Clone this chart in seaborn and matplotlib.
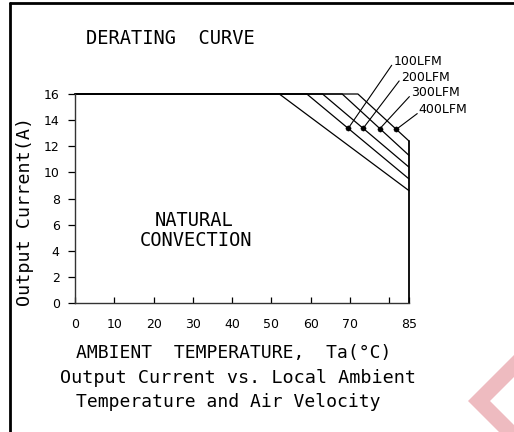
import numpy as np
import pandas as pd
import matplotlib
matplotlib.use("Agg")
import matplotlib.pyplot as plt
from matplotlib.lines import Line2D
from matplotlib.patches import Polygon
import seaborn as sns

# ---- data ----
airflow = ["Natural convection", "100LFM", "200LFM", "300LFM", "400LFM"]
derate_start_temp = [52, 59, 63, 68, 72]          # deg C where derating begins
current_at_85 = [8.6, 9.5, 10.4, 11.3, 12.4]      # A at 85 deg C
max_current = 16
min_temp = 0
max_temp = 85

label_names = ["100LFM", "200LFM", "300LFM", "400LFM"]
marker_temp = [69.6, 73.4, 77.6, 81.8]
marker_current = [13.4, 13.4, 13.35, 13.3]
label_anchor_temp = [80.6, 82.5, 85.1, 87.1]
label_anchor_current = [18.2, 17.0, 15.8, 14.5]

xtick_vals = [0, 10, 20, 30, 40, 50, 60, 70, 80, 85]
xtick_text = ["0", "10", "20", "30", "40", "50", "60", "70", "", "85"]
ytick_vals = [0, 2, 4, 6, 8, 10, 12, 14, 16]

rows = []
for name, t0, iend in zip(airflow, derate_start_temp, current_at_85):
    for t, c in zip([min_temp, t0, max_temp], [max_current, max_current, iend]):
        rows.append({"airflow": name, "temp": t, "current": c})
df = pd.DataFrame(rows)

sns.set_theme(style="white")
plt.rcParams["font.family"] = ["DejaVu Sans"]
MONO = ["DejaVu Sans Mono", "DejaVu Sans"]

W, H = 514, 432
fig = plt.figure(figsize=(W / 100, H / 100), dpi=100)
ax = fig.add_axes([75 / W, 1 - 303 / H, (409 - 75) / W, (303 - 94) / H])

sns.lineplot(data=df, x="temp", y="current", hue="airflow", sort=False,
             palette=["black"] * len(airflow), legend=False, ax=ax,
             linewidth=0.9, estimator=None)
for l in ax.lines:
    l.set_clip_on(False)

# right edge of the region at 85 deg C
ax.plot([max_temp, max_temp], [0, current_at_85[-1]], color="black",
        linewidth=1.3, clip_on=False)

# markers and leader lines
sns.scatterplot(x=marker_temp, y=marker_current, color="black", s=14,
                edgecolor="black", ax=ax, zorder=5, clip_on=False)
for mt, mc, lt, lc, nm in zip(marker_temp, marker_current,
                              label_anchor_temp, label_anchor_current, label_names):
    ax.plot([mt, lt], [mc, lc], color="black", linewidth=0.8, clip_on=False)
    ax.text(lt + 0.4, lc + 0.02, nm, fontsize=9, ha="left", va="baseline",
            color="black")

ax.set_xlim(min_temp, max_temp)
ax.set_ylim(0, max_current)
ax.set_xticks(xtick_vals)
ax.set_xticklabels(xtick_text)
ax.set_yticks(ytick_vals)
ax.tick_params(axis="x", direction="in", length=4, width=0.9, pad=11,
               labelsize=9, colors="black", bottom=True)
ax.tick_params(axis="y", direction="out", length=5, width=0.9, pad=6,
               labelsize=9, colors="black", left=True)
ax.set_xlabel("")
ax.set_ylabel("")
for s in ["top", "right"]:
    ax.spines[s].set_visible(False)
for s in ["left", "bottom"]:
    ax.spines[s].set_color("#333333")
    ax.spines[s].set_linewidth(1.0)
ax.set_facecolor("none")

def ft(x, y, s, **kw):
    fig.text(x / W, 1 - y / H, s, color="black", family=MONO, **kw)

ft(170, 38, "DERATING  CURVE", fontsize=13.5, ha="center", va="center")
ft(194, 220, "NATURAL", fontsize=13.5, ha="center", va="center")
ft(196, 241, "CONVECTION", fontsize=13.5, ha="center", va="center")
ft(25, 211, "Output Current(A)", fontsize=13.2, ha="center", va="center",
   rotation=90)
ft(234, 353, "AMBIENT  TEMPERATURE,  Ta(°C)", fontsize=13, ha="center", va="center")
ft(238, 378, "Output Current vs. Local Ambient", fontsize=13.3, ha="center", va="center")
ft(228, 402, "Temperature and Air Velocity", fontsize=13, ha="center", va="center")

# outer frame (top and left edges visible)
fig.add_artist(Line2D([10 / W, 1], [1 - 3 / H, 1 - 3 / H], color="black",
                      linewidth=2, transform=fig.transFigure))
fig.add_artist(Line2D([10 / W, 10 / W], [0, 1 - 3 / H], color="black",
                      linewidth=2, transform=fig.transFigure))

# faint pink watermark chevron in the lower right corner
pts = [(468, 401), (514, 355), (514, 377), (490, 401), (514, 425), (514, 432), (499, 432)]
fig.add_artist(Polygon([(x / W, 1 - y / H) for x, y in pts], closed=True,
                       facecolor="#eebbc0", edgecolor="none",
                       transform=fig.transFigure))

fig.savefig("out.png", dpi=100)
